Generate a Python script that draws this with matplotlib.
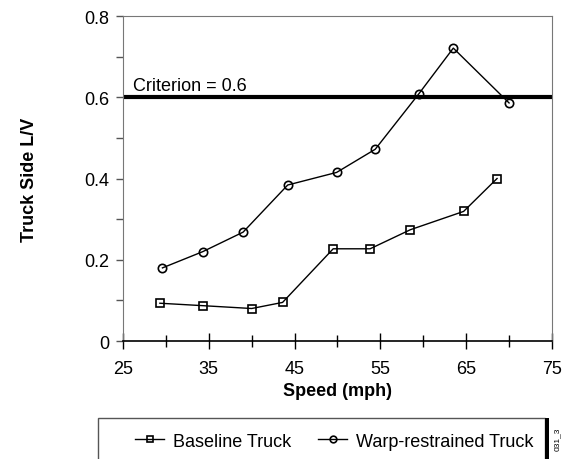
import numpy as np
import matplotlib.pyplot as plt
from matplotlib.patches import Rectangle

plt.rcParams['font.family'] = ['Liberation Sans', 'DejaVu Sans']

# data
speed_base = [29.3, 34.3, 40.0, 43.6, 49.5, 53.8, 58.5, 64.7, 68.6]
lv_base = [0.093, 0.087, 0.080, 0.095, 0.227, 0.227, 0.274, 0.319, 0.400]
speed_warp = [29.6, 34.3, 39.0, 44.2, 49.9, 54.4, 59.5, 63.5, 70.0]
lv_warp = [0.180, 0.220, 0.268, 0.384, 0.415, 0.472, 0.609, 0.721, 0.586]
criterion = 0.6

x_ticks = [25, 35, 45, 55, 65, 75]
y_ticks = [0, 0.2, 0.4, 0.6, 0.8]
y_ticklabels = ['0', '0.2', '0.4', '0.6', '0.8']

fig = plt.figure(figsize=(5.67, 4.6), dpi=100)
ax = fig.add_axes([0.2169, 0.2565, 0.7566, 0.7065])

ax.plot(speed_base, lv_base, color='black', lw=1, marker='s', ms=6,
        mfc='none', mec='black', mew=1.2, label='Baseline Truck')
ax.plot(speed_warp, lv_warp, color='black', lw=1, marker='o', ms=6,
        mfc='none', mec='black', mew=1.2, label='Warp-restrained Truck')
ax.axhline(criterion, color='black', lw=3, zorder=1)
ax.text(26.2, criterion + 0.008, 'Criterion = 0.6', fontsize=13, va='bottom')

ax.set_xlim(25, 75)
ax.set_ylim(0, 0.8)
ax.set_xticks(x_ticks)
ax.set_xticks([30, 40, 50, 60, 70], minor=True)
ax.set_yticks(y_ticks)
ax.set_yticklabels(y_ticklabels)
ax.set_yticks([0.1, 0.3, 0.5, 0.7], minor=True)
ax.tick_params(axis='x', which='major', direction='inout', length=12, width=1,
               labelsize=13, pad=8)
ax.tick_params(axis='x', which='minor', direction='inout', length=8, width=1)
ax.tick_params(axis='y', which='both', direction='out', length=5, width=1,
               color='#555555', labelsize=13, pad=5)

for s in ['left', 'right', 'top']:
    ax.spines[s].set_color('#777777')
ax.spines['bottom'].set_color('black')
ax.spines['bottom'].set_linewidth(1.2)

ax.set_xlabel('Speed (mph)', fontsize=13, fontweight='bold', labelpad=3)
ax.set_ylabel('Truck Side L/V', fontsize=13, fontweight='bold', labelpad=33)

# legend box running off the bottom of the figure
fig.patches.append(Rectangle((0.173, -0.05), 0.788, 0.139, transform=fig.transFigure,
                             fill=False, edgecolor='#555555', lw=1))
fig.patches.append(Rectangle((0.961, -0.05), 0.007, 0.139, transform=fig.transFigure,
                             facecolor='black', edgecolor='none'))
fig.text(0.983, 0.045, '031_3', rotation=90, fontsize=6, ha='center', va='center')
handles, labels = ax.get_legend_handles_labels()
fig.legend(handles, labels, ncol=2, frameon=False, loc='center',
           bbox_to_anchor=(0.59, 0.039), fontsize=13, handlelength=1.6,
           columnspacing=1.5, handletextpad=0.5, markerscale=0.8)

fig.savefig('out.png', dpi=100)
